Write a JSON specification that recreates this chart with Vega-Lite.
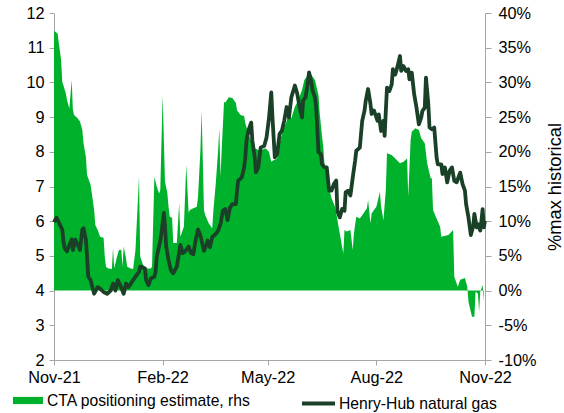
{
  "$schema": "https://vega.github.io/schema/vega-lite/v6.json",
  "width": 431,
  "height": 347,
  "autosize": {"type": "none"},
  "padding": {"left": 54, "top": 13, "right": 79, "bottom": 53},
  "background": "white",
  "config": {
    "view": {"stroke": null},
    "font": "Liberation Sans",
    "axis": {
      "grid": false,
      "domainColor": "#a6a6a6",
      "tickColor": "#a6a6a6",
      "domainWidth": 1,
      "tickWidth": 1,
      "tickSize": 5,
      "labelColor": "#000000",
      "labelFont": "Liberation Sans",
      "labelFontSize": 16.3,
      "titleFont": "Liberation Sans",
      "titleFontSize": 18.3,
      "titleFontWeight": "normal",
      "titleColor": "#000000",
      "zindex": 1
    },
    "legend": {
      "labelFont": "Liberation Sans",
      "labelFontSize": 15.7,
      "labelColor": "#000000",
      "labelLimit": 400,
      "padding": 0
    }
  },
  "datasets": {
    "cta": [
      {"date":"2021-11-01","pct":37.45},{"date":"2021-11-04","pct":37.05},{"date":"2021-11-07","pct":33.25},{"date":"2021-11-08","pct":30.1},
      {"date":"2021-11-11","pct":28.45},{"date":"2021-11-12","pct":27.45},{"date":"2021-11-14","pct":26.25},{"date":"2021-11-16","pct":30.35},
      {"date":"2021-11-17","pct":26.0},{"date":"2021-11-18","pct":25.3},{"date":"2021-11-21","pct":24.85},{"date":"2021-11-23","pct":24.35},
      {"date":"2021-11-25","pct":23.15},{"date":"2021-11-26","pct":21.25},{"date":"2021-11-28","pct":19.3},{"date":"2021-11-29","pct":16.65},
      {"date":"2021-11-30","pct":16.2},{"date":"2021-12-02","pct":15.2},{"date":"2021-12-03","pct":14.05},{"date":"2021-12-05","pct":11.6},
      {"date":"2021-12-06","pct":9.45},{"date":"2021-12-08","pct":8.75},{"date":"2021-12-10","pct":7.75},{"date":"2021-12-13","pct":7.6},
      {"date":"2021-12-14","pct":4.9},{"date":"2021-12-15","pct":3.45},{"date":"2021-12-17","pct":3.2},{"date":"2021-12-20","pct":3.1},
      {"date":"2021-12-21","pct":6.1},{"date":"2021-12-22","pct":3.2},{"date":"2021-12-24","pct":4.65},{"date":"2021-12-26","pct":5.85},
      {"date":"2021-12-28","pct":5.9},{"date":"2021-12-29","pct":3.45},{"date":"2021-12-30","pct":6.35},{"date":"2022-01-01","pct":4.65},
      {"date":"2022-01-02","pct":3.45},{"date":"2022-01-05","pct":3.2},{"date":"2022-01-07","pct":3.1},{"date":"2022-01-09","pct":5.9},
      {"date":"2022-01-12","pct":16.4},{"date":"2022-01-13","pct":4.9},{"date":"2022-01-16","pct":3.45},{"date":"2022-01-19","pct":3.2},
      {"date":"2022-01-22","pct":3.2},{"date":"2022-01-23","pct":3.45},{"date":"2022-01-25","pct":16.4},{"date":"2022-01-27","pct":15.0},
      {"date":"2022-01-29","pct":14.0},{"date":"2022-01-30","pct":14.5},{"date":"2022-02-01","pct":28.2},{"date":"2022-02-03","pct":15.7},
      {"date":"2022-02-05","pct":14.05},{"date":"2022-02-06","pct":12.1},{"date":"2022-02-07","pct":10.65},{"date":"2022-02-09","pct":10.5},
      {"date":"2022-02-10","pct":6.85},{"date":"2022-02-13","pct":6.85},{"date":"2022-02-15","pct":12.6},{"date":"2022-02-16","pct":7.75},
      {"date":"2022-02-19","pct":9.2},{"date":"2022-02-21","pct":18.1},{"date":"2022-02-23","pct":11.2},{"date":"2022-02-24","pct":11.6},
      {"date":"2022-02-27","pct":11.85},{"date":"2022-03-02","pct":12.1},{"date":"2022-03-03","pct":13.55},{"date":"2022-03-05","pct":20.25},
      {"date":"2022-03-06","pct":26.0},{"date":"2022-03-08","pct":11.6},{"date":"2022-03-09","pct":10.9},{"date":"2022-03-12","pct":9.7},
      {"date":"2022-03-15","pct":9.0},{"date":"2022-03-16","pct":11.6},{"date":"2022-03-18","pct":15.45},{"date":"2022-03-20","pct":20.25},
      {"date":"2022-03-21","pct":23.4},{"date":"2022-03-22","pct":16.4},{"date":"2022-03-23","pct":20.25},{"date":"2022-03-25","pct":27.2},
      {"date":"2022-03-26","pct":27.05},{"date":"2022-03-29","pct":27.85},{"date":"2022-04-01","pct":27.75},{"date":"2022-04-04","pct":27.05},
      {"date":"2022-04-05","pct":26.0},{"date":"2022-04-08","pct":25.3},{"date":"2022-04-11","pct":25.15},{"date":"2022-04-12","pct":24.15},
      {"date":"2022-04-15","pct":22.4},{"date":"2022-04-18","pct":21.25},{"date":"2022-04-20","pct":20.5},{"date":"2022-04-23","pct":20.25},
      {"date":"2022-04-26","pct":20.25},{"date":"2022-04-29","pct":20.5},{"date":"2022-05-02","pct":20.0},{"date":"2022-05-03","pct":19.3},
      {"date":"2022-05-04","pct":18.55},{"date":"2022-05-06","pct":18.8},{"date":"2022-05-09","pct":19.05},{"date":"2022-05-11","pct":21.25},
      {"date":"2022-05-14","pct":23.15},{"date":"2022-05-17","pct":24.35},{"date":"2022-05-18","pct":25.15},{"date":"2022-05-21","pct":24.85},
      {"date":"2022-05-24","pct":26.5},{"date":"2022-05-27","pct":27.45},{"date":"2022-05-30","pct":28.9},{"date":"2022-06-01","pct":30.35},
      {"date":"2022-06-04","pct":31.05},{"date":"2022-06-07","pct":31.05},{"date":"2022-06-10","pct":30.35},{"date":"2022-06-13","pct":28.15},
      {"date":"2022-06-14","pct":25.6},{"date":"2022-06-16","pct":22.2},{"date":"2022-06-17","pct":20.85},{"date":"2022-06-18","pct":18.35},
      {"date":"2022-06-20","pct":17.6},{"date":"2022-06-21","pct":15.45},{"date":"2022-06-24","pct":13.3},{"date":"2022-06-27","pct":12.1},
      {"date":"2022-06-28","pct":11.2},{"date":"2022-06-30","pct":9.2},{"date":"2022-07-02","pct":7.3},{"date":"2022-07-04","pct":5.35},
      {"date":"2022-07-05","pct":8.75},{"date":"2022-07-07","pct":8.5},{"date":"2022-07-10","pct":8.75},{"date":"2022-07-12","pct":5.85},
      {"date":"2022-07-13","pct":8.25},{"date":"2022-07-15","pct":10.65},{"date":"2022-07-18","pct":10.4},{"date":"2022-07-21","pct":11.1},
      {"date":"2022-07-24","pct":11.85},{"date":"2022-07-25","pct":13.05},{"date":"2022-07-27","pct":9.7},{"date":"2022-07-28","pct":11.1},
      {"date":"2022-07-30","pct":11.6},{"date":"2022-08-01","pct":12.1},{"date":"2022-08-04","pct":14.25},{"date":"2022-08-05","pct":12.1},
      {"date":"2022-08-07","pct":10.15},{"date":"2022-08-09","pct":14.5},{"date":"2022-08-10","pct":19.8},{"date":"2022-08-14","pct":19.55},
      {"date":"2022-08-17","pct":19.05},{"date":"2022-08-21","pct":18.35},{"date":"2022-08-24","pct":18.55},{"date":"2022-08-27","pct":19.05},
      {"date":"2022-08-28","pct":13.55},{"date":"2022-08-30","pct":21.7},{"date":"2022-08-31","pct":22.9},{"date":"2022-09-03","pct":23.4},
      {"date":"2022-09-06","pct":23.15},{"date":"2022-09-08","pct":21.95},{"date":"2022-09-11","pct":21.25},{"date":"2022-09-13","pct":18.35},
      {"date":"2022-09-16","pct":16.2},{"date":"2022-09-17","pct":16.2},{"date":"2022-09-18","pct":11.6},{"date":"2022-09-21","pct":10.4},
      {"date":"2022-09-24","pct":9.2},{"date":"2022-09-25","pct":7.75},{"date":"2022-10-01","pct":8.0},{"date":"2022-10-05","pct":8.75},
      {"date":"2022-10-06","pct":2.0},{"date":"2022-10-09","pct":0.55},{"date":"2022-10-11","pct":1.55},{"date":"2022-10-15","pct":1.8},
      {"date":"2022-10-17","pct":0.55},{"date":"2022-10-18","pct":-1.6},{"date":"2022-10-21","pct":-3.75},{"date":"2022-10-23","pct":-3.75},
      {"date":"2022-10-24","pct":-0.15},{"date":"2022-10-26","pct":-0.4},{"date":"2022-10-27","pct":-3.05},{"date":"2022-10-28","pct":-0.15},
      {"date":"2022-10-30","pct":0.8},{"date":"2022-10-31","pct":-1.6}
    ],
    "gas": [
      {"date":"2021-11-01","price":5.97},{"date":"2021-11-03","price":6.1},{"date":"2021-11-06","price":5.9},{"date":"2021-11-08","price":5.76},
      {"date":"2021-11-09","price":5.42},{"date":"2021-11-10","price":5.22},{"date":"2021-11-12","price":5.13},{"date":"2021-11-14","price":5.32},
      {"date":"2021-11-16","price":5.47},{"date":"2021-11-17","price":5.17},{"date":"2021-11-19","price":5.47},{"date":"2021-11-21","price":5.32},
      {"date":"2021-11-23","price":5.17},{"date":"2021-11-25","price":5.76},{"date":"2021-11-26","price":5.8},{"date":"2021-11-28","price":5.47},
      {"date":"2021-11-29","price":4.98},{"date":"2021-11-30","price":4.4},{"date":"2021-12-02","price":4.3},{"date":"2021-12-05","price":3.91},
      {"date":"2021-12-08","price":4.1},{"date":"2021-12-10","price":4.06},{"date":"2021-12-13","price":3.96},{"date":"2021-12-16","price":3.91},
      {"date":"2021-12-19","price":4.0},{"date":"2021-12-21","price":4.2},{"date":"2021-12-23","price":4.0},{"date":"2021-12-25","price":4.3},
      {"date":"2021-12-27","price":4.16},{"date":"2021-12-30","price":3.91},{"date":"2022-01-01","price":4.2},{"date":"2022-01-03","price":4.1},
      {"date":"2022-01-06","price":4.25},{"date":"2022-01-09","price":4.4},{"date":"2022-01-12","price":4.54},{"date":"2022-01-13","price":4.69},
      {"date":"2022-01-15","price":4.67},{"date":"2022-01-17","price":4.64},{"date":"2022-01-18","price":4.3},{"date":"2022-01-20","price":4.16},
      {"date":"2022-01-22","price":4.35},{"date":"2022-01-25","price":4.4},{"date":"2022-01-26","price":4.54},{"date":"2022-01-27","price":4.98},
      {"date":"2022-01-30","price":5.42},{"date":"2022-01-31","price":5.66},{"date":"2022-02-02","price":6.24},{"date":"2022-02-03","price":5.85},
      {"date":"2022-02-04","price":5.27},{"date":"2022-02-06","price":4.88},{"date":"2022-02-08","price":4.59},{"date":"2022-02-10","price":4.5},
      {"date":"2022-02-13","price":4.69},{"date":"2022-02-15","price":5.1},{"date":"2022-02-16","price":5.32},{"date":"2022-02-18","price":5.08},
      {"date":"2022-02-20","price":5.13},{"date":"2022-02-23","price":5.27},{"date":"2022-02-25","price":5.08},{"date":"2022-02-27","price":5.05},
      {"date":"2022-03-01","price":5.47},{"date":"2022-03-03","price":5.76},{"date":"2022-03-05","price":5.58},{"date":"2022-03-08","price":5.15},
      {"date":"2022-03-10","price":5.3},{"date":"2022-03-11","price":5.44},{"date":"2022-03-13","price":5.25},{"date":"2022-03-15","price":5.54},
      {"date":"2022-03-18","price":5.63},{"date":"2022-03-20","price":5.73},{"date":"2022-03-22","price":5.92},{"date":"2022-03-24","price":6.3},
      {"date":"2022-03-26","price":6.35},{"date":"2022-03-28","price":6.03},{"date":"2022-03-30","price":6.39},{"date":"2022-04-01","price":6.49},
      {"date":"2022-04-04","price":6.49},{"date":"2022-04-05","price":6.88},{"date":"2022-04-06","price":7.17},{"date":"2022-04-09","price":7.26},
      {"date":"2022-04-11","price":7.55},{"date":"2022-04-12","price":7.84},{"date":"2022-04-13","price":8.32},{"date":"2022-04-15","price":8.65},
      {"date":"2022-04-17","price":8.84},{"date":"2022-04-18","price":8.32},{"date":"2022-04-20","price":7.84},{"date":"2022-04-21","price":7.41},
      {"date":"2022-04-23","price":7.55},{"date":"2022-04-25","price":8.12},{"date":"2022-04-28","price":8.17},{"date":"2022-04-30","price":8.41},
      {"date":"2022-05-02","price":8.95},{"date":"2022-05-04","price":9.71},{"date":"2022-05-05","price":8.99},{"date":"2022-05-07","price":7.84},
      {"date":"2022-05-09","price":7.93},{"date":"2022-05-11","price":8.51},{"date":"2022-05-13","price":8.61},{"date":"2022-05-15","price":8.9},
      {"date":"2022-05-17","price":9.29},{"date":"2022-05-19","price":8.99},{"date":"2022-05-21","price":9.57},{"date":"2022-05-24","price":9.91},
      {"date":"2022-05-26","price":9.67},{"date":"2022-05-28","price":9.29},{"date":"2022-05-30","price":8.99},{"date":"2022-05-31","price":9.48},
      {"date":"2022-06-02","price":9.57},{"date":"2022-06-04","price":10.0},{"date":"2022-06-05","price":10.29},{"date":"2022-06-07","price":10.0},
      {"date":"2022-06-08","price":9.76},{"date":"2022-06-10","price":9.57},{"date":"2022-06-11","price":9.29},{"date":"2022-06-13","price":7.99},
      {"date":"2022-06-15","price":7.93},{"date":"2022-06-16","price":7.64},{"date":"2022-06-18","price":7.55},{"date":"2022-06-20","price":7.55},
      {"date":"2022-06-22","price":6.88},{"date":"2022-06-24","price":6.88},{"date":"2022-06-26","price":7.07},{"date":"2022-06-28","price":7.17},
      {"date":"2022-06-29","price":6.3},{"date":"2022-07-01","price":6.11},{"date":"2022-07-03","price":6.35},{"date":"2022-07-05","price":6.3},
      {"date":"2022-07-06","price":6.83},{"date":"2022-07-08","price":6.88},{"date":"2022-07-10","price":6.74},{"date":"2022-07-12","price":7.26},
      {"date":"2022-07-14","price":7.74},{"date":"2022-07-15","price":8.03},{"date":"2022-07-18","price":8.12},{"date":"2022-07-20","price":8.89},
      {"date":"2022-07-22","price":9.19},{"date":"2022-07-23","price":9.47},{"date":"2022-07-25","price":9.81},{"date":"2022-07-27","price":9.38},
      {"date":"2022-07-28","price":9.09},{"date":"2022-07-30","price":9.19},{"date":"2022-08-02","price":8.89},{"date":"2022-08-03","price":9.08},
      {"date":"2022-08-05","price":8.6},{"date":"2022-08-07","price":8.89},{"date":"2022-08-08","price":8.46},{"date":"2022-08-09","price":9.18},
      {"date":"2022-08-10","price":9.85},{"date":"2022-08-12","price":9.75},{"date":"2022-08-14","price":9.94},{"date":"2022-08-15","price":10.38},
      {"date":"2022-08-17","price":10.23},{"date":"2022-08-19","price":10.47},{"date":"2022-08-21","price":10.76},{"date":"2022-08-22","price":10.33},
      {"date":"2022-08-24","price":10.47},{"date":"2022-08-26","price":10.33},{"date":"2022-08-28","price":10.38},{"date":"2022-08-29","price":10.09},
      {"date":"2022-08-31","price":10.28},{"date":"2022-09-02","price":9.66},{"date":"2022-09-04","price":9.27},{"date":"2022-09-06","price":8.79},
      {"date":"2022-09-08","price":8.99},{"date":"2022-09-09","price":9.18},{"date":"2022-09-11","price":9.27},{"date":"2022-09-12","price":10.14},
      {"date":"2022-09-14","price":9.37},{"date":"2022-09-15","price":8.7},{"date":"2022-09-17","price":8.65},{"date":"2022-09-19","price":8.7},
      {"date":"2022-09-21","price":7.84},{"date":"2022-09-22","price":7.64},{"date":"2022-09-25","price":7.64},{"date":"2022-09-26","price":7.36},
      {"date":"2022-09-28","price":7.55},{"date":"2022-09-30","price":7.12},{"date":"2022-10-02","price":7.45},{"date":"2022-10-04","price":7.55},
      {"date":"2022-10-05","price":7.36},{"date":"2022-10-06","price":7.16},{"date":"2022-10-08","price":7.12},{"date":"2022-10-10","price":7.31},
      {"date":"2022-10-11","price":7.4},{"date":"2022-10-13","price":7.07},{"date":"2022-10-15","price":6.88},{"date":"2022-10-16","price":6.49},
      {"date":"2022-10-18","price":6.11},{"date":"2022-10-20","price":5.6},{"date":"2022-10-22","price":5.85},{"date":"2022-10-23","price":6.21},
      {"date":"2022-10-25","price":5.82},{"date":"2022-10-26","price":5.92},{"date":"2022-10-28","price":5.73},{"date":"2022-10-29","price":6.01},
      {"date":"2022-10-30","price":6.35},{"date":"2022-10-31","price":5.82},{"date":"2022-11-01","price":6.01}
    ]
  },
  "layer": [
    {
      "data": {"name": "cta"},
      "mark": {"type": "area", "interpolate": "linear"},
      "encoding": {
        "x": {
          "field": "date", "type": "temporal",
          "scale": {"type": "utc", "domain": [{"year": 2021, "month": 11, "date": 1, "utc": true}, {"year": 2022, "month": 11, "date": 1, "utc": true}]},
          "axis": {
            "title": null,
            "labelExpr": "utcFormat(datum.value, '%b-%y')",
            "values": [
              {"year": 2021, "month": 11, "date": 1, "utc": true},
              {"year": 2022, "month": 2, "date": 1, "utc": true},
              {"year": 2022, "month": 5, "date": 1, "utc": true},
              {"year": 2022, "month": 8, "date": 1, "utc": true},
              {"year": 2022, "month": 11, "date": 1, "utc": true}
            ],
            "labelPadding": 4,
            "labelFlush": false,
            "labelOverlap": false
          }
        },
        "y": {
          "field": "pct", "type": "quantitative",
          "scale": {"domain": [-10, 40], "nice": false, "zero": false},
          "axis": {
            "orient": "right",
            "offset": 0,
            "title": "%max historical",
            "titleAngle": 270,
            "titleBaseline": "alphabetic",
            "titlePadding": 24,
            "values": [-10, -5, 0, 5, 10, 15, 20, 25, 30, 35, 40],
            "labelExpr": "datum.value + '%'",
            "tickSize": 6,
            "labelPadding": 7
          }
        },
        "y2": {"datum": 0},
        "fill": {
          "datum": "CTA positioning estimate, rhs",
          "type": "nominal",
          "scale": {"range": ["#00B22B"]},
          "legend": {
            "title": null,
            "orient": "none",
            "legendX": -41,
            "legendY": 372.5,
            "symbolType": "M-1,-0.24H1V0.24H-1Z",
            "symbolSize": 900,
            "symbolOpacity": 1,
            "symbolStrokeWidth": 0,
            "labelOffset": 4
          }
        }
      }
    },
    {
      "data": {"name": "gas"},
      "mark": {"type": "line", "strokeWidth": 3.8, "interpolate": "linear", "strokeJoin": "round", "strokeCap": "butt"},
      "encoding": {
        "x": {
          "field": "date", "type": "temporal",
          "axis": {
            "title": null,
            "labelExpr": "utcFormat(datum.value, '%b-%y')",
            "values": [
              {"year": 2021, "month": 11, "date": 1, "utc": true},
              {"year": 2022, "month": 2, "date": 1, "utc": true},
              {"year": 2022, "month": 5, "date": 1, "utc": true},
              {"year": 2022, "month": 8, "date": 1, "utc": true},
              {"year": 2022, "month": 11, "date": 1, "utc": true}
            ],
            "labelPadding": 4,
            "labelFlush": false,
            "labelOverlap": false
          }
        },
        "y": {
          "field": "price", "type": "quantitative",
          "scale": {"domain": [2, 12], "nice": false, "zero": false},
          "axis": {
            "orient": "left",
            "title": null,
            "values": [2, 3, 4, 5, 6, 7, 8, 9, 10, 11, 12],
            "labelPadding": 5
          }
        },
        "stroke": {
          "datum": "Henry-Hub natural gas",
          "type": "nominal",
          "scale": {"range": ["#1A4027"]},
          "legend": {
            "title": null,
            "orient": "none",
            "legendX": 246,
            "legendY": 372,
            "symbolType": "stroke",
            "symbolSize": 1089,
            "symbolStrokeWidth": 3.8,
            "labelOffset": 2
          }
        }
      }
    }
  ],
  "resolve": {"scale": {"y": "independent", "fill": "independent", "stroke": "independent"}}
}
